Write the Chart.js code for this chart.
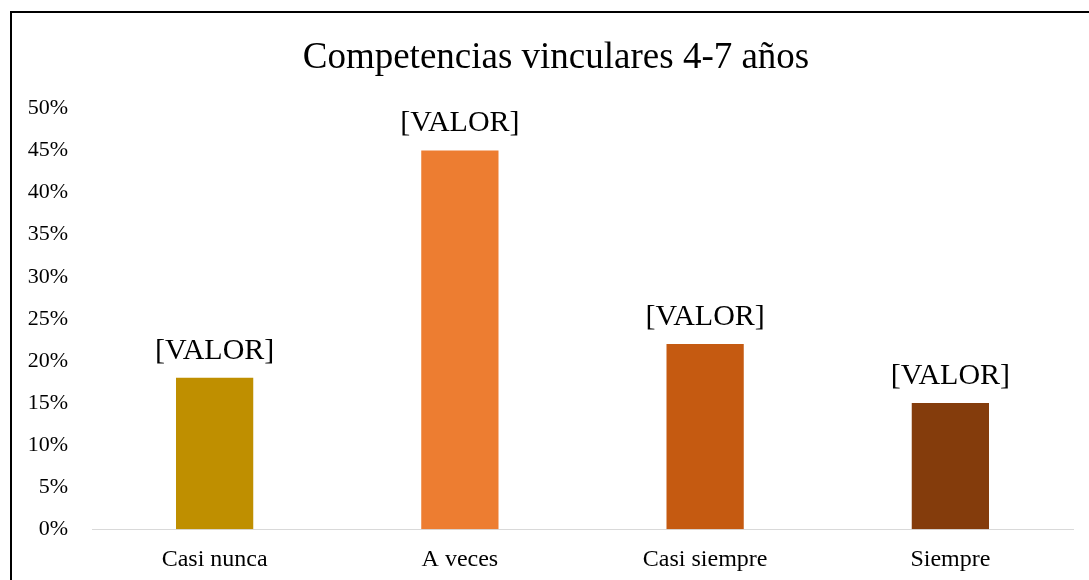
<!DOCTYPE html>
<html>
<head>
<meta charset="utf-8">
<script src="https://cdn.jsdelivr.net/npm/chart.js@4"></script>
<style>
  html, body { margin: 0; padding: 0; background: #fff; overflow: hidden; width: 1089px; height: 580px; }
  #frame { position: absolute; left: 10px; top: 11px; width: 1100px; height: 600px; border-left: 2px solid #000; border-top: 2px solid #000; }
  #wrap { position: absolute; left: 0; top: 0; width: 1088px; height: 584px; }
</style>
</head>
<body>
<div id="frame"><div id="wrap"><canvas id="c"></canvas></div></div>
<script>
const titleText = 'Competencias vinculares 4-7 años';
const categories = ['Casi nunca', 'A veces', 'Casi siempre', 'Siempre'];
const values = [18, 45, 22, 15];
const barColors = ['#BF8F00', '#ED7D31', '#C55A11', '#843C0C'];
const dataLabels = ['[VALOR]', '[VALOR]', '[VALOR]', '[VALOR]'];
const FONT = '"Liberation Serif", "Times New Roman", serif';

const labelPlugin = {
  id: 'valLabels',
  afterDatasetsDraw(chart) {
    const ctx = chart.ctx;
    const meta = chart.getDatasetMeta(0);
    ctx.save();
    ctx.font = '30px ' + FONT;
    ctx.fillStyle = '#000';
    ctx.textAlign = 'center';
    ctx.textBaseline = 'middle';
    meta.data.forEach((bar, i) => {
      ctx.fillText(dataLabels[i], bar.x, bar.y - 27);
    });
    ctx.restore();
  }
};

new Chart(document.getElementById('c'), {
  type: 'bar',
  data: {
    labels: categories,
    datasets: [{
      data: values,
      backgroundColor: barColors,
      categoryPercentage: 1,
      barPercentage: 0.315,
      yAxisID: 'y'
    }]
  },
  options: {
    responsive: true,
    maintainAspectRatio: false,
    animation: false,
    layout: { padding: { left: 0, right: 0, top: 0, bottom: 7 } },
    plugins: {
      legend: { display: false },
      tooltip: { enabled: false },
      title: {
        display: true,
        text: titleText,
        color: '#000',
        font: { family: FONT, size: 37, weight: 'normal' },
        padding: { top: 23, bottom: 28 }
      }
    },
    scales: {
      x: {
        grid: { display: false, drawTicks: false },
        border: { display: true, color: '#d9d9d9', width: 1 },
        ticks: { color: '#000', font: { family: FONT, size: 24 }, padding: 16 }
      },
      y: {
        min: 0, max: 50,
        grid: { display: false, drawTicks: false },
        border: { display: false },
        afterFit(scale) { scale.width = 80; },
        ticks: {
          stepSize: 5,
          padding: 24,
          color: '#000',
          font: { family: FONT, size: 22 },
          callback: v => v + '%'
        }
      },
      y2: {
        position: 'right',
        min: 0, max: 50,
        grid: { display: false, drawTicks: false },
        border: { display: false },
        ticks: { display: false },
        afterFit(scale) { scale.width = 27; }
      }
    }
  },
  plugins: [labelPlugin]
});
</script>
</body>
</html>
